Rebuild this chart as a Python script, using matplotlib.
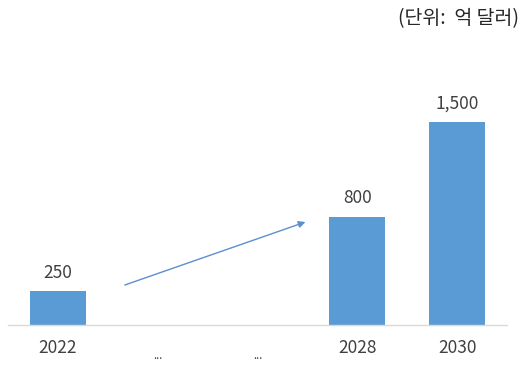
import matplotlib.pyplot as plt

plt.rcParams['font.family'] = ['Noto Sans CJK KR', 'DejaVu Sans']

# data
years = ['2022', '...', '...', '2028', '2030']
values = [250, None, None, 800, 1500]
value_labels = ['250', '', '', '800', '1,500']
unit_text = '(단위:  억 달러)'

bar_color = '#5b9bd5'
text_color = '#404040'

fig = plt.figure(figsize=(5.22, 3.65), dpi=100)
ax = fig.add_axes([8/522, 40/365, 499/522, 271/365])

pos = list(range(len(years)))
for i, v in enumerate(values):
    if v is None:
        continue
    ax.bar(i, v, width=0.56, color=bar_color, zorder=2)
    ax.text(i, v + 70, value_labels[i], ha='center', va='bottom',
            fontsize=12.5, color=text_color)

ax.set_xlim(-0.5, 4.5)
ax.set_ylim(0, 2000)

for s in ['top', 'right', 'left']:
    ax.spines[s].set_visible(False)
ax.spines['bottom'].set_color('#d9d9d9')
ax.spines['bottom'].set_linewidth(1.0)
ax.set_yticks([])
ax.set_xticks(pos)
ax.set_xticklabels(years)
ax.tick_params(axis='x', length=0, pad=10, labelsize=12.5, labelcolor=text_color)
for lbl in ax.get_xticklabels():
    if lbl.get_text() == '...':
        lbl.set_fontsize(8)
        lbl.set_y(-0.045)

# growth arrow
ax.annotate('', xy=(2.48, 760), xytext=(0.67, 295),
            arrowprops=dict(arrowstyle='-|>', color='#5b8fd0', lw=1.0,
                            mutation_scale=10, shrinkA=0, shrinkB=0))

fig.text(0.995, 0.948, unit_text, ha='right', va='center',
         fontsize=14, color='#262626')

plt.savefig('out.png', dpi=100)
